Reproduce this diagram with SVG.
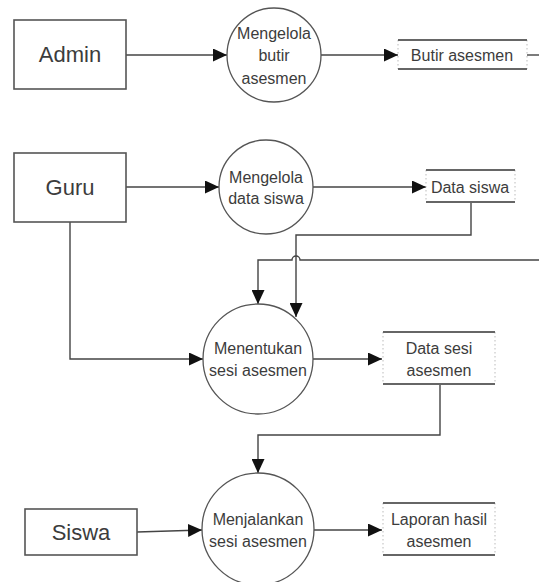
<svg xmlns="http://www.w3.org/2000/svg" width="539" height="582" viewBox="0 0 539 582">
<defs>
<marker id="arr" markerUnits="userSpaceOnUse" markerWidth="15" markerHeight="13" refX="14" refY="6.5" orient="auto">
<path d="M0,0 L14,6.5 L0,13 Z" fill="#111"/>
</marker>
<style>
.ent{fill:#fff;stroke:#555;stroke-width:1.6}
.proc{fill:#fff;stroke:#555;stroke-width:1.3}
.st{stroke:#666;stroke-width:1.8}
.sd{stroke:#bbb;stroke-width:1;stroke-dasharray:1.5 2.5}
.ln{fill:none;stroke:#444;stroke-width:1.4}
.t{font-family:"Liberation Sans",Arial,sans-serif;fill:#3c3c3c;text-anchor:middle;dominant-baseline:central}
.big{font-size:22px}
.sm{font-size:16px}
</style>
</defs>
<rect width="539" height="582" fill="#fff"/>

<g id="connectors">
<path class="ln" d="M126,55 H227" marker-end="url(#arr)"/>
<path class="ln" d="M321,55 H398" marker-end="url(#arr)"/>
<path class="ln" d="M527,55 H539"/>
<path class="ln" d="M126,187 H219" marker-end="url(#arr)"/>
<path class="ln" d="M313,187 H426" marker-end="url(#arr)"/>
<path class="ln" d="M471,202 V235 H296 V317" marker-end="url(#arr)"/>
<path class="ln" d="M539,260 H300 A4,4 0 0 0 292,260 H258 V304" marker-end="url(#arr)"/>
<path class="ln" d="M70,222 V359 H203" marker-end="url(#arr)"/>
<path class="ln" d="M313,359 H382" marker-end="url(#arr)"/>
<path class="ln" d="M440,384 V435 H258 V473" marker-end="url(#arr)"/>
<path class="ln" d="M137,532 L202,530" marker-end="url(#arr)"/>
<path class="ln" d="M314,530 H382" marker-end="url(#arr)"/>
</g>

<g id="admin">
<rect class="ent" x="14" y="20" width="112" height="69"/>
<text class="t big" x="70" y="54">Admin</text>
</g>
<g id="p-butir">
<circle class="proc" cx="274" cy="55" r="47"/>
<text class="t sm" x="274" y="33">Mengelola</text>
<text class="t sm" x="274" y="55">butir</text>
<text class="t sm" x="274" y="78">asesmen</text>
</g>
<g id="s-butir">
<line class="sd" x1="398" y1="40" x2="398" y2="69"/>
<line class="sd" x1="527" y1="40" x2="527" y2="69"/>
<line class="st" x1="398" y1="40" x2="527" y2="40"/>
<line class="st" x1="398" y1="69" x2="527" y2="69"/>
<text class="t sm" x="462" y="55">Butir asesmen</text>
</g>

<g id="guru">
<rect class="ent" x="14" y="153" width="112" height="69"/>
<text class="t big" x="70" y="187">Guru</text>
</g>
<g id="p-siswa">
<circle class="proc" cx="266" cy="187" r="47"/>
<text class="t sm" x="266" y="177">Mengelola</text>
<text class="t sm" x="266" y="198">data siswa</text>
</g>
<g id="s-siswa">
<line class="sd" x1="426" y1="170" x2="426" y2="202"/>
<line class="sd" x1="515" y1="170" x2="515" y2="202"/>
<line class="st" x1="426" y1="170" x2="515" y2="170"/>
<line class="st" x1="426" y1="202" x2="515" y2="202"/>
<text class="t sm" x="470" y="187">Data siswa</text>
</g>

<g id="p-sesi">
<circle class="proc" cx="258" cy="359" r="55"/>
<text class="t sm" x="258" y="348">Menentukan</text>
<text class="t sm" x="258" y="370">sesi asesmen</text>
</g>
<g id="s-sesi">
<line class="sd" x1="383" y1="332" x2="383" y2="384"/>
<line class="sd" x1="495" y1="332" x2="495" y2="384"/>
<line class="st" x1="383" y1="332" x2="495" y2="332"/>
<line class="st" x1="383" y1="384" x2="495" y2="384"/>
<text class="t sm" x="439" y="348">Data sesi</text>
<text class="t sm" x="439" y="370">asesmen</text>
</g>

<g id="siswa">
<rect class="ent" x="25" y="509" width="112" height="46"/>
<text class="t big" x="81" y="532">Siswa</text>
</g>
<g id="p-jalan">
<circle class="proc" cx="258" cy="529" r="56"/>
<text class="t sm" x="258" y="519">Menjalankan</text>
<text class="t sm" x="258" y="541">sesi asesmen</text>
</g>
<g id="s-laporan">
<line class="sd" x1="383" y1="503" x2="383" y2="555"/>
<line class="sd" x1="495" y1="503" x2="495" y2="555"/>
<line class="st" x1="383" y1="503" x2="495" y2="503"/>
<line class="st" x1="383" y1="555" x2="495" y2="555"/>
<text class="t sm" x="439" y="519">Laporan hasil</text>
<text class="t sm" x="439" y="541">asesmen</text>
</g>
</svg>
